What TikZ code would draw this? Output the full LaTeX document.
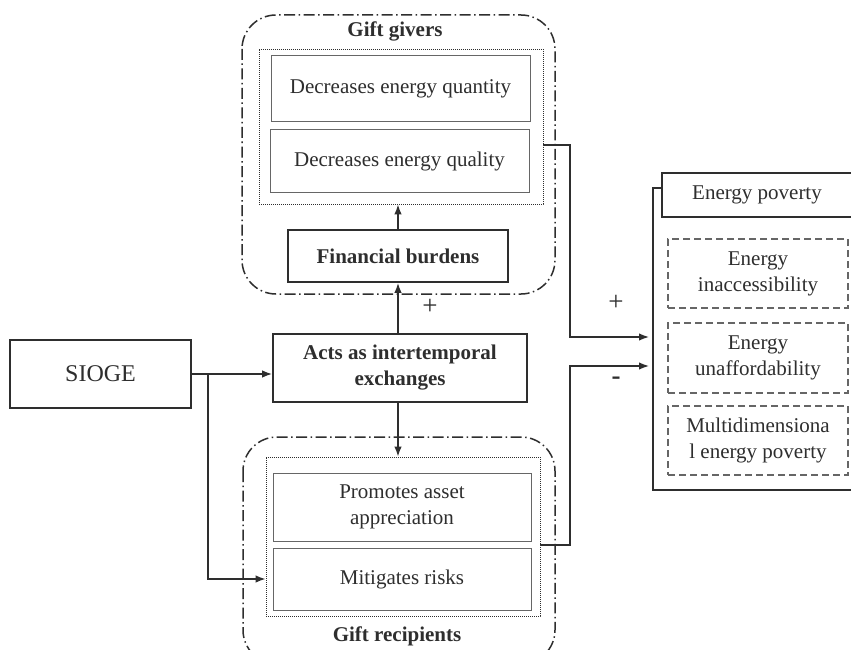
\documentclass[tikz,border=0pt]{standalone}
\usepackage{fontspec}
\setmainfont{Liberation Serif}
\usetikzlibrary{arrows.meta}
\definecolor{ink}{HTML}{2E2E2E}
\definecolor{light}{HTML}{666666}
\tikzset{
  txt/.style={font=\fontsize{21}{26}\selectfont, text=ink, align=center, inner sep=0pt},
  thinbox/.style={txt, draw=light, line width=1pt, rectangle},
  boldbox/.style={txt, draw=ink, line width=1.8pt, rectangle, font=\fontsize{21}{26}\selectfont\bfseries},
  plainbox/.style={txt, draw=ink, line width=1.5pt, rectangle},
  dotbox/.style={draw=ink, line width=0.8pt, dash pattern=on 0.8pt off 1.2pt, rectangle, inner sep=0pt},
  dashbox/.style={txt, draw=light, line width=1.1pt, dash pattern=on 7pt off 4pt, rectangle},
  groupline/.style={draw=ink, line width=1.5pt, dash pattern=on 11pt off 3.5pt on 1.5pt off 3.5pt, rounded corners=34pt},
  conn/.style={draw=ink, line width=1.5pt, -{Latex[length=10pt,width=7.5pt]}},
  plainline/.style={draw=ink, line width=1.5pt},
}
\begin{document}
\begin{tikzpicture}[x=1pt,y=-1pt]
\useasboundingbox (0,0) rectangle (851,650);
\clip (0,0) rectangle (851,650);
\fill[white] (0,0) rectangle (851,650);

% Gift givers group
\draw[groupline] (242,15) rectangle (555,294);
\node[txt, font=\fontsize{21}{26}\selectfont\bfseries] (giverstitle) at (395,31) {Gift givers};
\node[dotbox, minimum width=284pt, minimum height=155pt] (dotgiv) at (401,126.5) {};
\node[thinbox, minimum width=259pt, minimum height=66pt] (q1) at (400.5,89) {Decreases energy quantity};
\node[thinbox, minimum width=259pt, minimum height=62pt] (q2) at (399.5,161) {Decreases energy quality};
\node[boldbox, minimum width=220pt, minimum height=52pt] (fin) at (398,256) {Financial burdens};

% Center and SIOGE
\node[boldbox, minimum width=254pt, minimum height=68pt] (acts) at (400,368) {Acts as intertemporal\\exchanges};
\node[plainbox, minimum width=181pt, minimum height=68pt, font=\fontsize{24}{28}\selectfont] (sioge) at (100.5,374) {SIOGE};

% Gift recipients group
\draw[groupline] (243,437) rectangle (555,664);
\node[txt, font=\fontsize{21}{26}\selectfont\bfseries] (recipientstitle) at (397,636) {Gift recipients};
\node[dotbox, minimum width=274pt, minimum height=159pt] (dotrec) at (403,536.5) {};
\node[thinbox, minimum width=258pt, minimum height=68pt] (pa) at (402,507) {Promotes asset\\appreciation};
\node[thinbox, minimum width=258pt, minimum height=62pt] (mr) at (402,579) {Mitigates risks};

% Energy poverty group
\draw[plainline] (653,188) rectangle (880,490);
\draw[plainline, fill=white] (662,173) rectangle (880,217);
\node[txt] (ephead) at (757,195) {Energy poverty};
\node[dashbox, minimum width=180pt, minimum height=69pt] (d1) at (758,273.5) {Energy\\inaccessibility};
\node[dashbox, minimum width=180pt, minimum height=70pt] (d2) at (758,358) {Energy\\unaffordability};
\node[dashbox, minimum width=180pt, minimum height=69pt] (d3) at (758,440.5) {Multidimensiona\\l energy poverty};
\coordinate (inplus) at (649,337);
\coordinate (inminus) at (649,366);

% Connectors
\draw[conn] (fin.north) -- (fin.north |- dotgiv.south);
\draw[conn] (fin.south |- acts.north) -- (fin.south);
\draw[conn] (fin.south |- acts.south) -- (fin.south |- dotrec.north);
\draw[conn] (sioge.east) -- (acts.west |- sioge.east);
\coordinate (branch) at (208,374);
\draw[conn] (branch) |- (dotrec.west |- mr.west);
\draw[conn] ([yshift=-18.5pt]dotgiv.east) -- (570,145) |- (inplus);
\draw[conn] ([yshift=-8.5pt]dotrec.east) -- (570,545) |- (inminus);

% Signs
\node[txt, font=\fontsize{27}{30}\selectfont] (plusA) at (430,307) {+};
\node[txt, font=\fontsize{27}{30}\selectfont] (plusB) at (616,303) {+};
\node[txt, font=\fontsize{27}{30}\selectfont\bfseries] (minus) at (616,381) {-};
\end{tikzpicture}
\end{document}
